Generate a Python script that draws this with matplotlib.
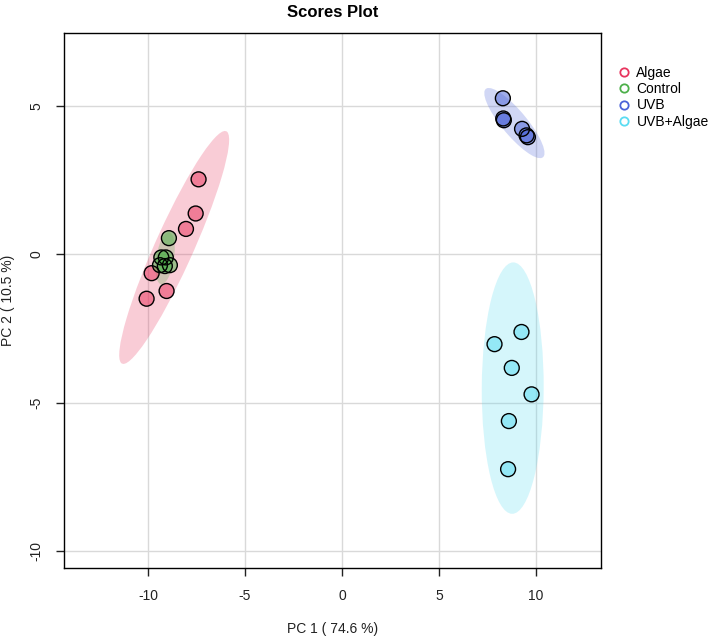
import numpy as np
import matplotlib
matplotlib.use("Agg")
from matplotlib import pyplot as plt
from matplotlib.patches import Ellipse
from matplotlib.lines import Line2D

plt.rcParams['font.family'] = ['Liberation Sans', 'DejaVu Sans']
plt.rcParams['axes.unicode_minus'] = False

# scores
groups = ["Algae", "Control", "UVB", "UVB+Algae"]
colors = ["#E8355E", "#4DB04A", "#4A62D8", "#5ADCF2"]

algae_pc1 = [-7.39, -7.54, -8.04, -9.81, -9.04, -10.07]
algae_pc2 = [2.52, 1.37, 0.85, -0.64, -1.24, -1.50]

control_pc1 = [-8.92, -9.31, -9.08, -9.38, -9.13, -8.87]
control_pc2 = [0.54, -0.11, -0.11, -0.37, -0.40, -0.37]

uvb_pc1 = [8.30, 8.32, 8.35, 9.29, 9.52, 9.59]
uvb_pc2 = [5.25, 4.57, 4.51, 4.22, 4.00, 3.94]

uvba_pc1 = [9.26, 7.87, 8.76, 9.78, 8.61, 8.57]
uvba_pc2 = [-2.62, -3.03, -3.83, -4.72, -5.62, -7.24]

pc1 = [algae_pc1, control_pc1, uvb_pc1, uvba_pc1]
pc2 = [algae_pc2, control_pc2, uvb_pc2, uvba_pc2]

xticks = [-10, -5, 0, 5, 10]
yticks = [-10, -5, 0, 5]


def conf_ellipse(x, y, color):
    # 95% confidence ellipse from the group covariance
    pts = np.column_stack([x, y])
    cov = np.cov(pts, rowvar=False)
    vals, vecs = np.linalg.eigh(cov)
    order = vals.argsort()[::-1]
    vals, vecs = vals[order], vecs[:, order]
    angle = np.degrees(np.arctan2(vecs[1, 0], vecs[0, 0]))
    k = np.sqrt(5.991)
    w, h = 2 * k * np.sqrt(vals)
    return Ellipse(pts.mean(axis=0), w, h, angle=angle,
                   facecolor=color, alpha=0.25, edgecolor="none", zorder=1)


fig = plt.figure(figsize=(7.11, 6.39), dpi=100)
ax = fig.add_axes([0.090, 0.111, 0.755, 0.837])

for x, y, c in zip(pc1, pc2, colors):
    ax.add_patch(conf_ellipse(x, y, c))

for x, y, c in zip(pc1, pc2, colors):
    ax.scatter(x, y, s=115, facecolor=c, alpha=0.52, edgecolor="none", zorder=3)
    ax.scatter(x, y, s=115, facecolor="none", edgecolor="black", linewidth=1.0, zorder=4)

ax.set_xlim(-14.33, 13.35)
ax.set_ylim(-10.57, 7.44)
ax.set_xticks(xticks)
ax.set_yticks(yticks)
ax.grid(True, color="#D9D9D9", linewidth=1.0, zorder=0)
ax.set_axisbelow(True)
for s in ax.spines.values():
    s.set_linewidth(1.0)
    s.set_color("black")
ax.tick_params(direction="out", length=6, width=1, labelsize=10, pad=9, colors="#222222")
for lab in ax.get_yticklabels():
    lab.set_rotation(90)
    lab.set_va("center")

ax.set_xlabel("PC 1 ( 74.6 %)", fontsize=10, labelpad=14, color="#222222")
ax.set_ylabel("PC 2 ( 10.5 %)", fontsize=10, labelpad=10, color="#222222")
ax.set_title("Scores Plot", fontsize=12, fontweight="bold", pad=12)

handles = [Line2D([], [], linestyle="none", marker="o", markersize=6,
                  markerfacecolor="none", markeredgecolor=c, markeredgewidth=1.3)
           for c in colors]
fig.legend(handles, groups, loc="upper left", bbox_to_anchor=(0.86, 0.905),
           frameon=False, fontsize=10, handlelength=1.0, handletextpad=0.4,
           labelspacing=0.15, borderaxespad=0)

fig.savefig("out.png", dpi=100)
